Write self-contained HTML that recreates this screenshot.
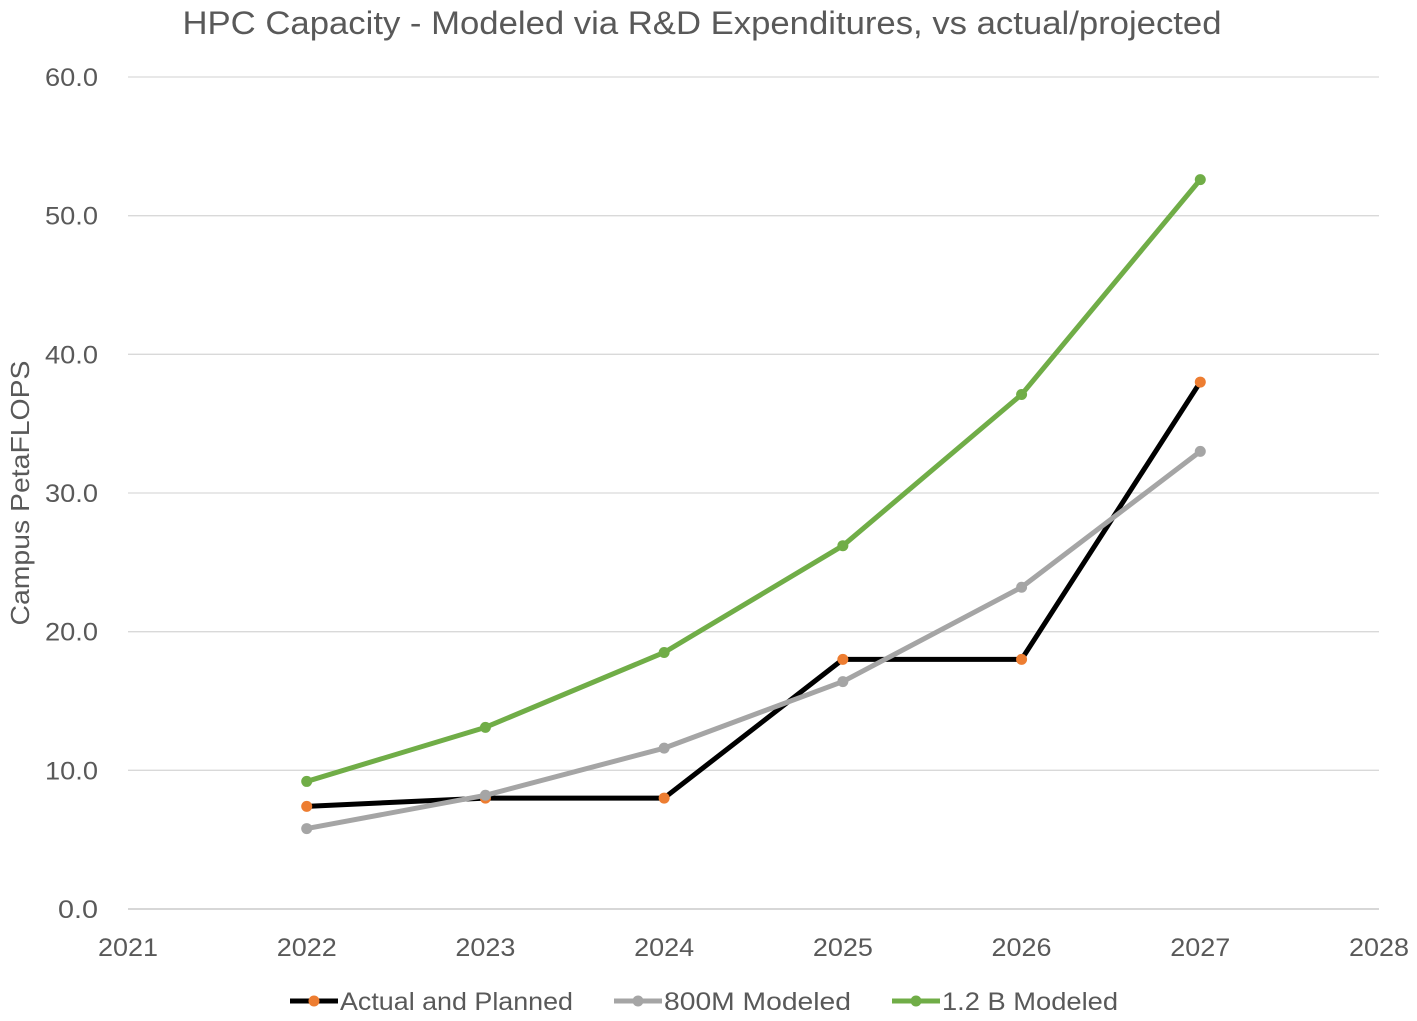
<!DOCTYPE html>
<html><head><meta charset="utf-8"><style>
body{margin:0;background:#fff;}
svg{display:block;font-family:"Liberation Sans",sans-serif;}
</style></head><body>
<svg id="chart" width="1417" height="1021" xmlns="http://www.w3.org/2000/svg">
<text x="702" y="34" text-anchor="middle" font-size="32" fill="#595959" textLength="1039" lengthAdjust="spacingAndGlyphs">HPC Capacity - Modeled via R&amp;D Expenditures, vs actual/projected</text>
<text transform="translate(29,493) rotate(-90)" text-anchor="middle" font-size="26" fill="#595959" textLength="265" lengthAdjust="spacingAndGlyphs">Campus PetaFLOPS</text>
<g id="grid"></g><g id="series"></g><g id="legend"></g>
</svg>
<script>
const years=[2022,2023,2024,2025,2026,2027];
const actualPlanned=[7.4,8.0,8.0,18.0,18.0,38.0];
const modeled800M=[5.8,8.2,11.6,16.4,23.2,33.0];
const modeled12B=[9.2,13.1,18.5,26.2,37.1,52.6];
const yTicks=[0,10,20,30,40,50,60];
const xTicks=[2021,2022,2023,2024,2025,2026,2027,2028];
const NS="http://www.w3.org/2000/svg";
const X0=128,X1=1379,Y0=909,Y1=77;
const xs=v=>X0+(v-2021)/(2028-2021)*(X1-X0);
const ys=v=>Y0-v/60*(Y0-Y1);
function mk(tag,attrs,parent){const e=document.createElementNS(NS,tag);for(const k in attrs)e.setAttribute(k,attrs[k]);parent.appendChild(e);return e;}
const grid=document.getElementById('grid');
yTicks.forEach(t=>{
 const l=mk('line',{x1:X0,x2:X1,y1:ys(t),y2:ys(t),stroke:t===0?'#bfbfbf':'#d9d9d9','stroke-width':1.3},grid);
 
 
 const s=t.toFixed(1);
 const tx=mk('text',{x:98,y:ys(t)+9,'text-anchor':'end','font-size':25,fill:'#595959',textLength:s.length===3?40:53,lengthAdjust:'spacingAndGlyphs'},grid);
 tx.textContent=s;
 
 
});
xTicks.forEach(t=>{
 const tx=mk('text',{x:xs(t),y:956,'text-anchor':'middle','font-size':25,fill:'#595959',textLength:60,lengthAdjust:'spacingAndGlyphs'},grid);
 tx.textContent=t;
 
 
});
const S=document.getElementById('series');
function series(vals,line,marker,name){
 const g=mk('g',{},S);
 
 
 mk('polyline',{points:vals.map((v,i)=>xs(years[i])+','+ys(v)).join(' '),fill:'none',stroke:line,'stroke-width':5,'stroke-linejoin':'round'},g);
 vals.forEach((v,i)=>{
  const c=mk('circle',{cx:xs(years[i]),cy:ys(v),r:5.5,fill:marker},g);
  
  
 });
}
series(actualPlanned,'#000000','#ED7D31','actual-and-planned-series');
series(modeled800M,'#A5A5A5','#A5A5A5','800m-modeled-series');
series(modeled12B,'#70AD47','#70AD47','1-2b-modeled-series');
const L=document.getElementById('legend');
[[290,'#000','#ED7D31','Actual and Planned','legend-actual-and-planned',233],[614,'#A5A5A5','#A5A5A5','800M Modeled','legend-800m-modeled',187],[892,'#70AD47','#70AD47','1.2 B Modeled','legend-1-2b-modeled',176]].forEach(d=>{
 const g=mk('g',{},L);
 
 
 mk('line',{x1:d[0],x2:d[0]+48,y1:1001,y2:1001,stroke:d[1],'stroke-width':5},g);
 mk('circle',{cx:d[0]+24,cy:1001,r:5.5,fill:d[2]},g);
 const t=mk('text',{x:d[0]+50,y:1010,'font-size':25,fill:'#595959',textLength:d[5],lengthAdjust:'spacingAndGlyphs'},g);
 t.textContent=d[3];
});
</script>
</body></html>
